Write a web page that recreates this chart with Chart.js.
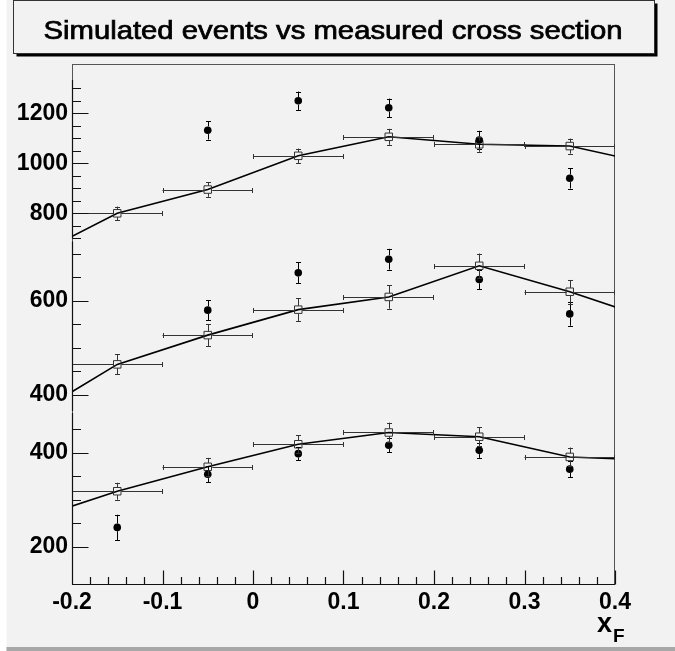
<!DOCTYPE html>
<html><head><meta charset="utf-8">
<script src="https://cdn.jsdelivr.net/npm/chart.js@4/dist/chart.umd.min.js"></script>
<style>html,body{margin:0;padding:0;background:#f2f2f2;overflow:hidden}canvas{display:block}</style>
</head><body>
<div style="width:675px;height:651px;position:relative"><canvas id="c" width="675" height="651"></canvas></div>
<script>
// ---------- data ----------
const titleText = 'Simulated events vs measured cross section';
const xBins = [-0.15, -0.05, 0.05, 0.15, 0.25, 0.35];
const xHalfWidth = 0.05;
const lineEdgeX = [-0.25, 0.45];

// top group
const simTop = [800, 895, 1030, 1106, 1076, 1069];
const simTopErr = [27, 29, 29, 32, 30, 30];
const simTopEdges = [616, 989];
const dataTop = [null, 1132, 1250, 1222, 1093, 940];
const dataTopErr = [null, 37, 37, 37, 37, 41];

// middle group
const simMid = [465, 527, 581, 608, 674, 619];
const simMidErr = [21, 23, 24, 25, 26, 25];
const simMidEdges = [349, 555];
const dataMid = [null, 580, 659, 688, 645, 572];
const dataMidErr = [null, 21, 22, 22, 21, 25];

// bottom group
const simBot = [318, 370, 418, 443, 434, 391];
const simBotErr = [18, 19, 19, 21, 20, 20];
const simBotEdges = [255, 383];
const dataBot = [241, 354, 398, 416, 405, 365];
const dataBotErr = [27, 17, 14, 15, 16, 17];

// ticks
const xTickValues = [-0.2, -0.1, 0, 0.1, 0.2, 0.3, 0.4];
const xTickLabels = ['-0.2', '-0.1', '0', '0.1', '0.2', '0.3', '0.4'];
const yTopTicks = [800, 1000, 1200];
const yMidTicks = [400, 600];
const yBotTicks = [200, 400];
const yTopMinorRange = [700, 1300];
const yMidMinorRange = [400, 700];
const yBotMinorRange = [200, 450];
const yTopAxisTop = 1333;

// ---------- helpers ----------
const pts = (ys) => xBins.map((x, i) => ({x: x, y: ys[i]}));
const linePts = (ys, edges) => [{x: lineEdgeX[0], y: edges[0]}, ...pts(ys), {x: lineEdgeX[1], y: edges[1]}];

const BG = '#f2f2f2';
const FONT = '"Liberation Sans", Arial, Helvetica, sans-serif';

function circles(ys, errs, axis) {
  return {type: 'scatter', data: pts(ys), yAxisID: axis, errY: errs,
    pointStyle: 'circle', pointRadius: 3.8, pointBackgroundColor: '#000', pointBorderColor: '#000',
    pointBorderWidth: 0, showLine: false, markerR: 3.8, errColor: '#000'};
}
function squares(ys, errs, axis) {
  return {type: 'scatter', data: pts(ys), yAxisID: axis, errY: errs, errX: xHalfWidth,
    pointStyle: 'rect', pointRadius: 5.3, pointBackgroundColor: 'rgba(0,0,0,0)', pointBorderColor: '#333',
    pointBorderWidth: 1, showLine: false, markerR: 3.8, errColor: '#333'};
}
function line(ys, edges, axis) {
  return {type: 'line', data: linePts(ys, edges), yAxisID: axis,
    borderColor: '#000', borderWidth: 1.6, pointRadius: 0, tension: 0, fill: false};
}

// ---------- plugins ----------
const bgPlugin = {
  id: 'bg',
  beforeDraw(chart) {
    const ctx = chart.ctx;
    ctx.save();
    ctx.fillStyle = BG;
    ctx.fillRect(0, 0, chart.width, chart.height);
    ctx.fillStyle = '#ffffff';
    ctx.fillRect(0, 0, 6.5, chart.height);
    ctx.fillStyle = '#a8a8a8';
    ctx.fillRect(6.5, 647, chart.width, 4);
    // title box with shadow
    ctx.fillStyle = '#000';
    ctx.fillRect(16.5, 3.5, 641, 53);
    ctx.fillStyle = BG;
    ctx.fillRect(13.5, 0.5, 641, 53);
    ctx.strokeStyle = '#333';
    ctx.lineWidth = 1;
    ctx.strokeRect(13.5, 0.5, 641, 53);
    // title text
    ctx.font = '25px ' + FONT;
    ctx.fillStyle = '#000';
    ctx.strokeStyle = '#000';
    ctx.lineWidth = 0.7;
    ctx.textBaseline = 'alphabetic';
    ctx.textAlign = 'center';
    const w = ctx.measureText(titleText).width;
    const sx = 579 / w;
    ctx.translate(333, 38.5);
    ctx.scale(sx, 1);
    ctx.fillText(titleText, 0, 0);
    ctx.strokeText(titleText, 0, 0);
    ctx.restore();
    // frame
    const a = chart.chartArea;
    ctx.save();
    ctx.strokeStyle = '#555';
    ctx.lineWidth = 1;
    ctx.strokeRect(Math.round(a.left) + 0.5, Math.round(a.top) + 0.5, Math.round(a.right - a.left) - 1, Math.round(a.bottom - a.top));
    ctx.restore();
  }
};

const errPlugin = {
  id: 'errbars',
  afterDatasetsDraw(chart) {
    const ctx = chart.ctx, a = chart.chartArea;
    ctx.save();
    ctx.beginPath();
    ctx.rect(a.left, a.top, a.right - a.left, a.bottom - a.top);
    ctx.clip();
    ctx.lineWidth = 1;
    chart.data.datasets.forEach((ds, i) => {
      if (!ds.errY) return;
      const meta = chart.getDatasetMeta(i);
      const ys = meta.yScale, xs = meta.xScale;
      ctx.strokeStyle = ds.errColor;
      const r = ds.markerR;
      ds.data.forEach((p, j) => {
        if (p.y == null) return;
        const px = Math.round(xs.getPixelForValue(p.x)) + 0.5;
        const py = ys.getPixelForValue(p.y);
        const hi = ys.getPixelForValue(p.y + ds.errY[j]);
        const lo = ys.getPixelForValue(p.y - ds.errY[j]);
        ctx.beginPath();
        ctx.moveTo(px, py - r); ctx.lineTo(px, hi);
        ctx.moveTo(px, py + r); ctx.lineTo(px, lo);
        ctx.moveTo(px - 2.5, Math.round(hi) + 0.5); ctx.lineTo(px + 2.5, Math.round(hi) + 0.5);
        ctx.moveTo(px - 2.5, Math.round(lo) + 0.5); ctx.lineTo(px + 2.5, Math.round(lo) + 0.5);
        if (ds.errX) {
          const xl = xs.getPixelForValue(p.x - ds.errX);
          const xr = xs.getPixelForValue(p.x + ds.errX);
          const yy = Math.round(py) + 0.5;
          ctx.moveTo(px - r, yy); ctx.lineTo(xl, yy);
          ctx.moveTo(px + r, yy); ctx.lineTo(xr, yy);
          ctx.moveTo(Math.round(xl) + 0.5, yy - 2.5); ctx.lineTo(Math.round(xl) + 0.5, yy + 2.5);
          ctx.moveTo(Math.round(xr) - 0.5, yy - 2.5); ctx.lineTo(Math.round(xr) - 0.5, yy + 2.5);
        }
        ctx.stroke();
      });
    });
    ctx.restore();
  }
};

const axisPlugin = {
  id: 'axes',
  afterDraw(chart) {
    const ctx = chart.ctx, a = chart.chartArea;
    const X0 = Math.round(a.left) + 0.5;
    const Y0 = Math.round(a.bottom) + 0.5;
    ctx.save();
    ctx.strokeStyle = '#111';
    ctx.lineWidth = 1.2;
    const segs = [
      {s: chart.scales.yTop, major: yTopTicks, rng: yTopMinorRange,
       y1: chart.scales.yTop.getPixelForValue(yTopAxisTop), y2: chart.scales.yTop.bottom - 1.5},
      {s: chart.scales.yMid, major: yMidTicks, rng: yMidMinorRange,
       y1: chart.scales.yMid.top + 1.5, y2: chart.scales.yMid.bottom - 1},
      {s: chart.scales.yBot, major: yBotTicks, rng: yBotMinorRange,
       y1: chart.scales.yBot.top + 1, y2: a.bottom}
    ];
    ctx.beginPath();
    segs.forEach(g => {
      ctx.moveTo(X0, g.y1); ctx.lineTo(X0, g.y2);
      for (let v = g.rng[0]; v <= g.rng[1]; v += 50) {
        const y = Math.round(g.s.getPixelForValue(v)) + 0.5;
        const len = g.major.includes(v) ? 16 : 8.5;
        ctx.moveTo(X0, y); ctx.lineTo(X0 + len, y);
      }
    });
    // x axis
    const xs = chart.scales.x;
    ctx.moveTo(a.left, Y0); ctx.lineTo(a.right, Y0);
    for (let k = 0; k <= 30; k++) {
      const v = -0.2 + k * 0.02;
      const x = Math.round(xs.getPixelForValue(v)) + 0.5;
      const len = (k % 5 === 0) ? 14 : 7.5;
      ctx.moveTo(x, Y0); ctx.lineTo(x, Y0 - len);
    }
    ctx.stroke();
    // axis title x_F
    ctx.fillStyle = '#000';
    ctx.textBaseline = 'alphabetic';
    ctx.textAlign = 'left';
    ctx.font = 'bold 27px ' + FONT;
    ctx.fillText('x', 597, 631.7);
    ctx.font = 'bold 19px ' + FONT;
    ctx.fillText('F', 613, 641.7);
    ctx.restore();
  }
};

// ---------- chart ----------
const tickFont = {family: FONT, weight: 'bold', size: 23};
function yScale(weight, stackWeight, min, max, ticks) {
  return {
    type: 'linear', position: 'left', stack: 'ystack', stackWeight: stackWeight, weight: weight,
    min: min, max: max, offset: false,
    grid: {display: false, drawTicks: false}, border: {display: false},
    afterBuildTicks: (s) => { s.ticks = ticks.map(v => ({value: v})); },
    afterFit: (s) => { s.width = 72; },
    ticks: {font: tickFont, color: '#000', padding: 4, autoSkip: false, callback: (v) => String(v)}
  };
}

new Chart(document.getElementById('c'), {
  data: {
    datasets: [
      circles(dataTop, dataTopErr, 'yTop'),
      circles(dataMid, dataMidErr, 'yMid'),
      circles(dataBot, dataBotErr, 'yBot'),
      squares(simTop, simTopErr, 'yTop'),
      squares(simMid, simMidErr, 'yMid'),
      squares(simBot, simBotErr, 'yBot'),
      line(simTop, simTopEdges, 'yTop'),
      line(simMid, simMidEdges, 'yMid'),
      line(simBot, simBotEdges, 'yBot')
    ]
  },
  options: {
    responsive: false,
    animation: false,
    devicePixelRatio: 1,
    layout: {padding: {top: 64, right: 60, bottom: 0, left: 0}},
    plugins: {legend: {display: false}, tooltip: {enabled: false}, title: {display: false}},
    scales: {
      x: {
        type: 'linear', position: 'bottom', min: -0.2, max: 0.4, offset: false,
        grid: {display: false, drawTicks: false}, border: {display: false},
        afterBuildTicks: (s) => { s.ticks = xTickValues.map(v => ({value: v})); },
        afterFit: (s) => { s.height = 67; },
        ticks: {font: tickFont, color: '#000', padding: 5, autoSkip: false, maxRotation: 0,
                callback: (v, i) => xTickLabels[i]}
      },
      yTop: yScale(3, 176, 693.2, 1397.2, yTopTicks),
      yMid: yScale(2, 172, 364, 728.7, yMidTicks),
      yBot: yScale(1, 172, 120.6, 486.6, yBotTicks)
    }
  },
  plugins: [bgPlugin, errPlugin, axisPlugin]
});
</script>
</body></html>
